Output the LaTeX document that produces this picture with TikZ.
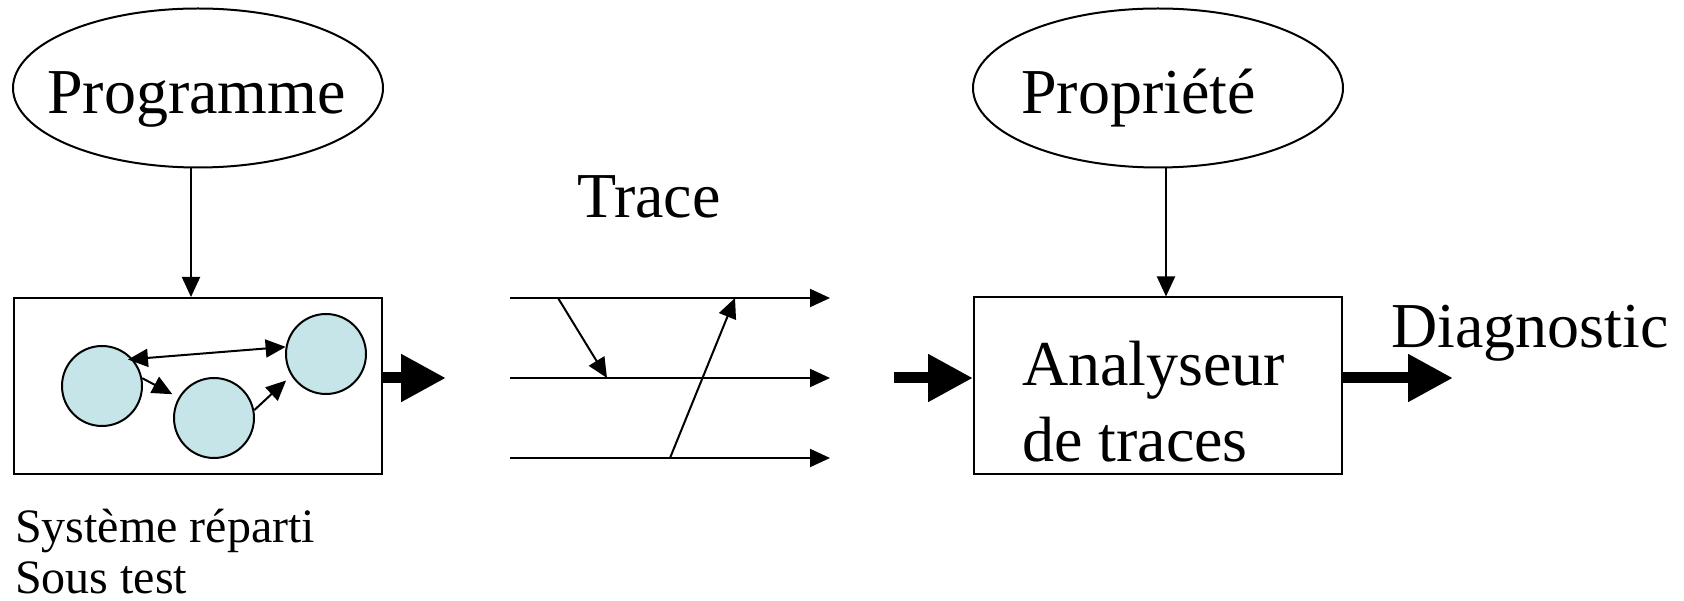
\documentclass[tikz,border=0pt]{standalone}
\usepackage{fontspec}
\setmainfont{Liberation Serif}
\usetikzlibrary{arrows.meta,shapes.geometric}
\definecolor{cellfill}{RGB}{198,229,232}
\tikzset{
  thinline/.style={line width=2pt,black},
  thinarrow/.style={thinline,-{Triangle[length=20pt,width=18pt]}},
  bothways/.style={thinline,{Triangle[length=20pt,width=18pt]}-{Triangle[length=20pt,width=18pt]}},
  bigarrow/.style={line width=11pt,-{Triangle[length=45pt,width=45pt]}},
  bubble/.style={ellipse,draw,line width=2pt,minimum width=370pt,minimum height=159pt,inner sep=0pt},
  boxnode/.style={draw,line width=2pt,minimum width=368pt,minimum height=176pt,inner sep=0pt},
  cell/.style={circle,draw,line width=2pt,fill=cellfill,minimum size=80pt,inner sep=0pt},
  lbl/.style={anchor=base west,inner sep=0pt},
  bigtext/.style={font=\fontsize{64}{64}\selectfont},
  smalltext/.style={font=\fontsize{48}{48}\selectfont},
}
\begin{document}
\begin{tikzpicture}[x=1pt,y=-1pt]
\useasboundingbox (0,0) rectangle (1684,601);
% ellipses
\node[bubble] (prog) at (198,88) {};
\node[lbl,bigtext] (progt) at (47,114) {Programme};
\node[bubble] (prop) at (1158,88) {};
\node[lbl,bigtext] (propt) at (1021,114) {Propriété};
% left box
\node[boxnode] (lbox) at (198,386) {};
\node[cell] (c1) at (102,386) {};
\node[cell] (c2) at (214,418) {};
\node[cell] (c3) at (326,354) {};
\draw[bothways,shorten <=-5pt] (c1.41) -- (c3.170);
\draw[thinarrow,shorten >=7pt] (c1.11) -- (c2.150);
\draw[thinarrow,shorten >=7pt] (c2.11) -- (c3.212);
\node[lbl,smalltext] (sys) at (15,542) {Système réparti};
\node[lbl,smalltext] (sous) at (15,593) {Sous test};
% right box
\node[boxnode] (rbox) at (1158,385.5) {};
\node[lbl,bigtext] (ana1) at (1022,386) {Analyseur};
\node[lbl,bigtext] (ana2) at (1022,461) {de traces};
% vertical arrows
\draw[thinarrow] ([xshift=-7pt]prog.south) -- ([xshift=-7pt]lbox.north);
\draw[thinarrow] ([xshift=8pt]prop.south) -- ([xshift=8pt]rbox.north);
% trace
\node[lbl,bigtext] (trace) at (577,218) {Trace};
\coordinate (a1) at (510,298); \coordinate (b1) at (830,298);
\coordinate (a2) at (510,378); \coordinate (b2) at (830,378);
\coordinate (a3) at (510,458); \coordinate (b3) at (830,458);
\draw[thinarrow] (a1) -- (b1);
\draw[thinarrow] (a2) -- (b2);
\draw[thinarrow] (a3) -- (b3);
\coordinate (m1s) at (558,298); \coordinate (m1e) at (607,378);
\coordinate (m2s) at (670,458); \coordinate (m2e) at (735,298);
\draw[thinarrow] (m1s) -- (m1e);
\draw[thinarrow] (m2s) -- (m2e);
% thick arrows
\coordinate (o1) at (446,378);
\draw[bigarrow] (lbox.east |- o1) -- (o1);
\coordinate (i2) at (894,378);
\draw[bigarrow] (i2) -- (rbox.west |- i2);
\coordinate (o3) at (1453,378);
\draw[bigarrow] (rbox.east |- o3) -- (o3);
\node[lbl,bigtext] (diag) at (1391,348) {Diagnostic};
\end{tikzpicture}
\end{document}
